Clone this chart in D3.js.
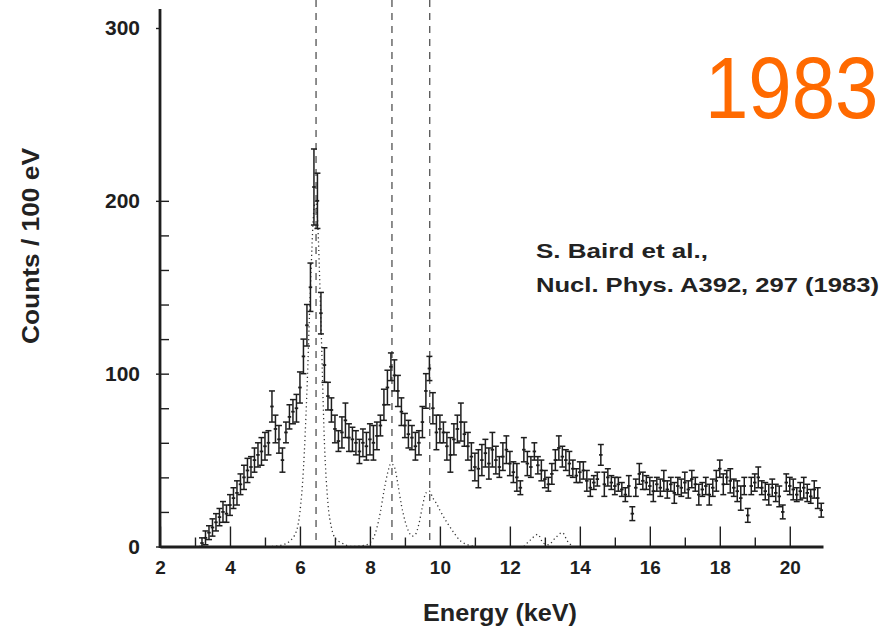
<!DOCTYPE html>
<html>
<head>
<meta charset="utf-8">
<script src="https://cdn.jsdelivr.net/npm/d3@7"></script>
<style>
  html, body { margin: 0; padding: 0; background: #fff; }
  svg { display: block; }
  text { font-family: "Liberation Sans", Arial, Helvetica, sans-serif; }
</style>
</head>
<body>
<svg id="chart" width="883" height="629"></svg>
<script>
// X-ray spectrum, counts per 100 eV bin; first bin centre and bin width in keV
const binStart = 3.2;
const binWidth = 0.1;

const counts = [
  2, 5, 8, 11, 14, 17, 20, 19,                    // 3.2 - 3.9
  24, 28, 31, 36, 40, 44, 46, 50, 53, 55,         // 4.x
  58, 60, 81, 68, 62, 50, 66, 75, 78, 80,         // 5.x
  92, 110, 128, 150, 208, 200, 135, 105, 87, 79,  // 6.x
  68, 61, 66, 73, 63, 62, 60, 55, 60, 58,         // 7.x
  62, 60, 64, 70, 82, 92, 104, 99, 90, 78,        // 8.x
  70, 65, 63, 58, 60, 72, 90, 103, 80, 66,        // 9.x
  68, 66, 58, 53, 62, 68, 72, 65, 58, 52,         // 10.x
  46, 45, 50, 54, 48, 56, 50, 46, 52, 56,         // 11.x
  48, 43, 40, 34, 56, 48, 46, 55, 47, 44,         // 12.x
  39, 36, 42, 50, 57, 52, 50, 48, 45, 41,         // 13.x
  43, 44, 38, 34, 37, 39, 53, 36, 40, 37,         // 14.x
  35, 36, 33, 30, 35, 19, 34, 42, 38, 37,         // 15.x
  35, 32, 36, 34, 38, 33, 36, 31, 35, 34,         // 16.x
  37, 33, 39, 36, 30, 33, 35, 30, 34, 38,         // 17.x
  45, 36, 40, 38, 34, 32, 28, 35, 18, 35,         // 18.x
  37, 40, 34, 32, 30, 34, 31, 29, 20, 37,         // 19.x
  35, 33, 30, 32, 34, 31, 29, 33, 28, 21          // 20.x
];

// statistical errors (half widths, counts)
const errors = [
  3, 4, 4, 5, 5, 5, 6, 5,
  6, 6, 7, 6, 7, 7, 6, 7, 7, 8,
  8, 7, 9, 8, 8, 7, 6, 7, 7, 8,
  9, 10, 12, 14, 22, 16, 12, 10, 8, 7,
  8, 6, 9, 10, 8, 7, 7, 7, 8, 8,
  9, 10, 8, 6, 9, 10, 8, 9, 9, 8,
  7, 8, 7, 8, 7, 9, 10, 7, 9, 10,
  8, 6, 8, 10, 9, 8, 11, 7, 8, 8,
  8, 11, 9, 8, 9, 10, 8, 6, 8, 8,
  7, 6, 8, 4, 7, 7, 6, 5, 5, 6,
  5, 4, 6, 6, 7, 6, 6, 7, 5, 4,
  6, 5, 6, 5, 4, 4, 6, 7, 5, 4,
  5, 4, 4, 4, 6, 4, 5, 6, 5, 4,
  5, 6, 4, 5, 6, 5, 4, 6, 5, 5,
  6, 5, 5, 4, 6, 4, 5, 6, 5, 6,
  5, 6, 4, 7, 5, 6, 7, 5, 4, 5,
  5, 6, 4, 5, 6, 5, 5, 6, 4, 5,
  5, 6, 4, 5, 6, 5, 4, 5, 6, 4
];

// fitted line components (dotted curve): energy (keV) and counts
const fitEnergy = [5.2, 5.5, 5.7, 5.9, 6.0, 6.1, 6.2, 6.3, 6.4, 6.45, 6.5, 6.6, 6.7, 6.8, 6.9, 7.0, 7.2, 7.5,
                   7.9, 8.1, 8.3, 8.4, 8.5, 8.6, 8.7, 8.8, 8.9, 9.0, 9.1, 9.2, 9.3, 9.4, 9.5, 9.6, 9.7, 9.8,
                   9.9, 10.0, 10.2, 10.4, 10.6, 10.8, 11.0];
const fitCounts = [0, 1, 3, 9, 20, 45, 90, 150, 195, 200, 190, 130, 60, 25, 11, 5, 2, 0,
                   1, 5, 20, 32, 42, 48, 46, 36, 24, 15, 9, 6, 7, 13, 23, 31, 32, 28,
                   25, 21, 14, 8, 3, 1, 0];
const bumpEnergy = [12.4, 12.6, 12.8, 12.95, 13.1, 13.3, 13.5, 13.65, 13.8];
const bumpCounts = [0, 4, 7, 2, 1, 5, 8, 3, 0];

// expected line positions (keV), drawn as dashed verticals
const lineEnergies = [6.46, 8.63, 9.71];

const xMajorTicks = [2, 4, 6, 8, 10, 12, 14, 16, 18, 20];
const xMinorTicks = [3, 5, 7, 9, 11, 13, 15, 17, 19];
const yLabelTicks = [0, 100, 200, 300];
const yMinorTicks = [20, 40, 60, 80, 100, 120, 140, 160, 180, 200];

const xLabel = "Energy (keV)";
const yLabel = "Counts / 100 eV";
const citation = ["S. Baird et al.,", "Nucl. Phys. A392, 297 (1983)"];
const yearTag = "1983";

const svg = d3.select("#chart");
const ink = "#1e1e1e";

const x = d3.scaleLinear().domain([2, 20.95]).range([160, 823]);
const y = d3.scaleLinear().domain([0, 300]).range([546.5, 28]);

const bins = counts.map((c, i) => ({
  e: binStart + i * binWidth,
  c: c,
  err: errors[i]
}));

// dashed line markers
svg.append("g")
  .selectAll("line")
  .data(lineEnergies)
  .join("line")
  .attr("x1", d => x(d)).attr("x2", d => x(d))
  .attr("y1", 0).attr("y2", y(0))
  .attr("stroke", "#444")
  .attr("stroke-width", 1.2)
  .attr("stroke-dasharray", "7,6");

// dotted fit components
const fitLine = d3.line()
  .x(d => x(d[0]))
  .y(d => y(d[1]))
  .curve(d3.curveMonotoneX);

[[fitEnergy, fitCounts], [bumpEnergy, bumpCounts]].forEach(([es, cs]) => {
  svg.append("path")
    .datum(es.map((e, i) => [e, cs[i]]))
    .attr("d", fitLine)
    .attr("fill", "none")
    .attr("stroke", "#333")
    .attr("stroke-width", 1.3)
    .attr("stroke-dasharray", "1.2,3");
});

// data points with error bars
const cap = 3;
const g = svg.append("g").attr("stroke", ink).attr("stroke-width", 1.5).attr("fill", "none");
const pts = g.selectAll("g.pt").data(bins).join("g").attr("class", "pt");
pts.append("line")
  .attr("x1", d => x(d.e)).attr("x2", d => x(d.e))
  .attr("y1", d => y(Math.max(0, d.c - d.err))).attr("y2", d => y(d.c + d.err));
pts.append("line")
  .attr("x1", d => x(d.e) - cap).attr("x2", d => x(d.e) + cap)
  .attr("y1", d => y(d.c + d.err)).attr("y2", d => y(d.c + d.err));
pts.append("line")
  .attr("x1", d => x(d.e) - cap).attr("x2", d => x(d.e) + cap)
  .attr("y1", d => y(Math.max(0, d.c - d.err))).attr("y2", d => y(Math.max(0, d.c - d.err)));
pts.append("line")
  .attr("x1", d => x(d.e - binWidth / 2)).attr("x2", d => x(d.e + binWidth / 2))
  .attr("y1", d => y(d.c)).attr("y2", d => y(d.c))
  .attr("stroke-width", 1.8);

// x axis: long ticks on even keV, short ticks on odd keV, pointing inward
const xMinor = svg.append("g")
  .attr("transform", `translate(0,${y(0)})`)
  .call(d3.axisBottom(x).tickValues(xMinorTicks).tickSizeInner(-9).tickSizeOuter(0).tickFormat(""));
xMinor.select(".domain").remove();

const xMajor = svg.append("g")
  .attr("transform", `translate(0,${y(0)})`)
  .call(d3.axisBottom(x).tickValues(xMajorTicks).tickSizeInner(-20).tickSizeOuter(0).tickPadding(14));
xMajor.select(".domain").attr("stroke", ink).attr("stroke-width", 3.2);
xMajor.selectAll(".tick line").attr("stroke", ink).attr("stroke-width", 1.4);
xMinor.selectAll(".tick line").attr("stroke", ink).attr("stroke-width", 1.4);
xMajor.selectAll(".tick text")
  .attr("fill", ink)
  .style("font-size", "19px")
  .style("font-weight", "bold");

// y axis: inward ticks every 20 counts, labels every 100
const yMinor = svg.append("g")
  .attr("transform", `translate(${x(2)},0)`)
  .call(d3.axisRight(y).tickValues(yMinorTicks).tickSizeInner(9).tickSizeOuter(0).tickFormat(""));
yMinor.select(".domain").remove();
yMinor.selectAll(".tick line").attr("stroke", ink).attr("stroke-width", 1.4);

const yAxis = svg.append("g")
  .attr("transform", `translate(${x(2)},0)`)
  .call(d3.axisLeft(y).tickValues(yLabelTicks).tickSizeInner(4).tickSizeOuter(0).tickPadding(16));
yAxis.select(".domain").remove();
yAxis.selectAll(".tick line").attr("stroke", ink).attr("stroke-width", 1.4);
yAxis.selectAll(".tick text")
  .attr("fill", ink)
  .style("font-size", "21px")
  .style("font-weight", "bold");

svg.append("line")
  .attr("x1", x(2)).attr("x2", x(2))
  .attr("y1", 9).attr("y2", y(0) + 1.5)
  .attr("stroke", ink).attr("stroke-width", 2.8);

// axis titles
svg.append("text")
  .attr("x", 423).attr("y", 621)
  .attr("textLength", 154).attr("lengthAdjust", "spacingAndGlyphs")
  .attr("fill", "#222")
  .style("font-size", "23px")
  .style("font-weight", "bold")
  .text(xLabel);

svg.append("text")
  .attr("transform", "translate(39,246) rotate(-90)")
  .attr("text-anchor", "middle")
  .attr("textLength", 196).attr("lengthAdjust", "spacingAndGlyphs")
  .attr("fill", "#222")
  .style("font-size", "23px")
  .style("font-weight", "bold")
  .text(yLabel);

// reference note
svg.append("text")
  .attr("x", 536).attr("y", 258)
  .attr("textLength", 172).attr("lengthAdjust", "spacingAndGlyphs")
  .attr("fill", "#222")
  .style("font-size", "21px").style("font-weight", "bold")
  .text(citation[0]);
svg.append("text")
  .attr("x", 536).attr("y", 292)
  .attr("textLength", 343).attr("lengthAdjust", "spacingAndGlyphs")
  .attr("fill", "#222")
  .style("font-size", "21px").style("font-weight", "bold")
  .text(citation[1]);

// year tag, slightly tall digits
svg.append("text")
  .attr("transform", "translate(705,118) scale(1,1.12)")
  .attr("fill", "#ff6a00")
  .style("font-size", "78px")
  .text(yearTag);
</script>
</body>
</html>
